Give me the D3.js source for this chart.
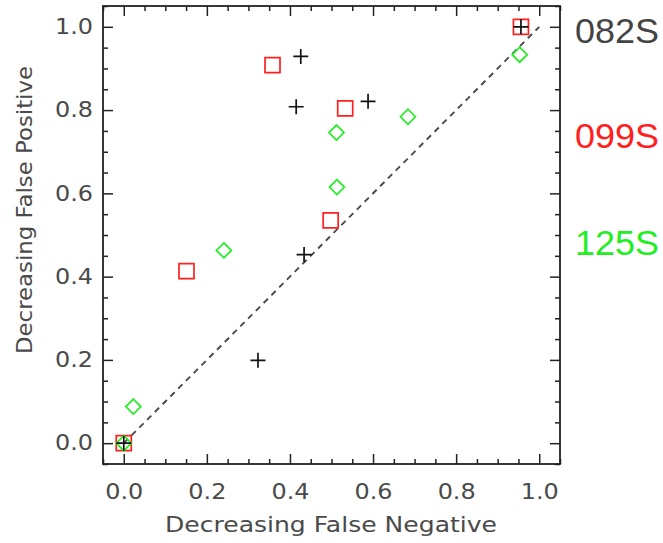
<!DOCTYPE html>
<html><head><meta charset="utf-8">
<script src="https://cdn.jsdelivr.net/npm/d3@7"></script>
<style>body{margin:0;background:#fff}svg{display:block}</style>
</head><body>
<svg id="c" width="663" height="543"></svg>
<script>
const seriesNames = ["082S", "099S", "125S"];
const seriesColors = ["#444444", "#ff2020", "#22ee22"];
const seriesShapes = ["cross", "square", "diamond"];
const fn082S = [0.0, 0.323, 0.434, 0.415, 0.426, 0.588, 0.956];
const fp082S = [0.0, 0.199, 0.453, 0.808, 0.929, 0.821, 1.0];
const fn099S = [0.0, 0.151, 0.358, 0.533, 0.498, 0.956];
const fp099S = [0.0, 0.413, 0.908, 0.804, 0.535, 1.0];
const fn125S = [0.0, 0.023, 0.241, 0.513, 0.512, 0.684, 0.953];
const fp125S = [0.0, 0.088, 0.463, 0.615, 0.746, 0.784, 0.933];
const majorTicks = [0, 0.2, 0.4, 0.6, 0.8, 1.0];
const minorTicks = [-0.05,0.05,0.1,0.15,0.25,0.3,0.35,0.45,0.5,0.55,0.65,0.7,0.75,0.85,0.9,0.95,1.05];
const diagonal = [[0,0],[1,1]];
const xTitle = "Decreasing False Negative";
const yTitle = "Decreasing False Positive";

const svg = d3.select("#c");
const L=103, R=560, T=6, B=464;
const x = d3.scaleLinear().domain([-0.05,1.05]).range([L,R]);
const y = d3.scaleLinear().domain([-0.05,1.05]).range([B,T]);
const fmt = d3.format(".1f");
const axisColor = "#222";
const textColor = "#4a4a4a";
const font = "'DejaVu Sans', sans-serif";

function styleAxis(g){
  g.select(".domain").remove();
  g.selectAll(".tick line").attr("stroke",axisColor).attr("stroke-width",1.5);
}
// bottom
svg.append("g").attr("transform",`translate(0,${B})`)
  .call(d3.axisBottom(x).tickValues(majorTicks).tickSizeInner(-10).tickSizeOuter(0).tickPadding(20).tickFormat(fmt))
  .call(styleAxis)
  .call(g=>g.selectAll("text").attr("fill",textColor).style("font-family",font).style("font-size","21px")
     .attr("textLength",38).attr("lengthAdjust","spacingAndGlyphs"));
svg.append("g").attr("transform",`translate(0,${B})`)
  .call(d3.axisBottom(x).tickValues(minorTicks).tickSizeInner(-5).tickSizeOuter(0).tickFormat(""))
  .call(styleAxis);
// top
svg.append("g").attr("transform",`translate(0,${T})`)
  .call(d3.axisTop(x).tickValues(majorTicks).tickSizeInner(-10).tickSizeOuter(0).tickFormat(""))
  .call(styleAxis);
svg.append("g").attr("transform",`translate(0,${T})`)
  .call(d3.axisTop(x).tickValues(minorTicks).tickSizeInner(-5).tickSizeOuter(0).tickFormat(""))
  .call(styleAxis);
// left
svg.append("g").attr("transform",`translate(${L},0)`)
  .call(d3.axisLeft(y).tickValues(majorTicks).tickSizeInner(-10).tickSizeOuter(0).tickPadding(10).tickFormat(fmt))
  .call(styleAxis)
  .call(g=>g.selectAll("text").attr("fill",textColor).style("font-family",font).style("font-size","21px")
     .attr("textLength",38).attr("lengthAdjust","spacingAndGlyphs"));
svg.append("g").attr("transform",`translate(${L},0)`)
  .call(d3.axisLeft(y).tickValues(minorTicks).tickSizeInner(-5).tickSizeOuter(0).tickFormat(""))
  .call(styleAxis);
// right
svg.append("g").attr("transform",`translate(${R},0)`)
  .call(d3.axisRight(y).tickValues(majorTicks).tickSizeInner(-10).tickSizeOuter(0).tickFormat(""))
  .call(styleAxis);
svg.append("g").attr("transform",`translate(${R},0)`)
  .call(d3.axisRight(y).tickValues(minorTicks).tickSizeInner(-5).tickSizeOuter(0).tickFormat(""))
  .call(styleAxis);
// frame
svg.append("rect").attr("x",L).attr("y",T).attr("width",R-L).attr("height",B-T)
  .attr("fill","none").attr("stroke",axisColor).attr("stroke-width",1.8);

// diagonal
svg.append("path").datum(diagonal)
  .attr("d",d3.line().x(d=>x(d[0])).y(d=>y(d[1])))
  .attr("fill","none").attr("stroke","#4a4a4a").attr("stroke-width",1.9).attr("stroke-dasharray","6,5");

const series = [
  {fn:fn082S, fp:fp082S},
  {fn:fn099S, fp:fp099S},
  {fn:fn125S, fp:fp125S}
];
const s=7.5;
function shapePath(kind){
  if(kind==="cross") return `M${-s},0H${s}M0,${-s}V${s}`;
  if(kind==="square") return `M${-s},${-s}H${s}V${s}H${-s}Z`;
  return `M0,${-s}L${s},0L0,${s}L${-s},0Z`;
}
// draw order: squares, diamonds, crosses on top
[1,2,0].forEach(i=>{
  const d = series[i].fn.map((v,k)=>[v, series[i].fp[k]]);
  svg.append("g").selectAll("path").data(d).join("path")
    .attr("transform",p=>`translate(${x(p[0])},${y(p[1])})`)
    .attr("d",shapePath(seriesShapes[i]))
    .attr("fill","none").attr("stroke",i===0?"#111":seriesColors[i]).attr("stroke-width",1.7);
});

// legend labels
const legendY = [43,148,255];
svg.append("g").selectAll("text").data(seriesNames).join("text")
  .attr("x",575).attr("y",(d,i)=>legendY[i])
  .attr("fill",(d,i)=>seriesColors[i])
  .style("font-family","'Liberation Sans', sans-serif").style("font-size","35px")
  .attr("textLength",84).attr("lengthAdjust","spacingAndGlyphs")
  .text(d=>d);

// titles
svg.append("text").attr("x",331).attr("y",532).attr("text-anchor","middle")
  .attr("fill",textColor).style("font-family",font).style("font-size","21px")
  .attr("textLength",332).attr("lengthAdjust","spacingAndGlyphs").text(xTitle);
svg.append("text").attr("transform","translate(32,210) rotate(-90)").attr("text-anchor","middle")
  .attr("fill",textColor).style("font-family",font).style("font-size","22px")
  .attr("textLength",288).attr("lengthAdjust","spacingAndGlyphs").text(yTitle);
</script>
</body></html>
